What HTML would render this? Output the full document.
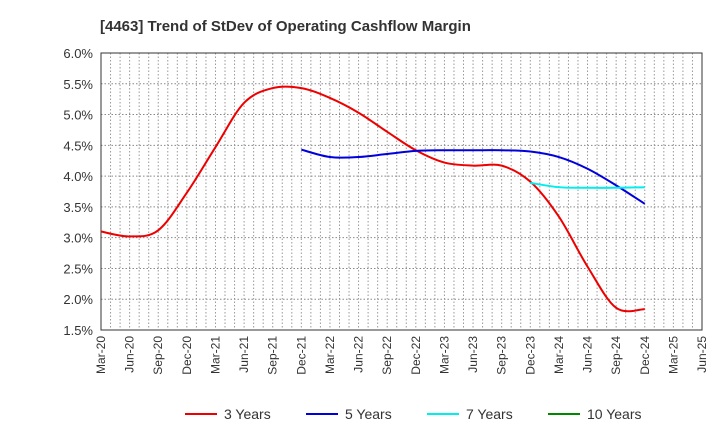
<!DOCTYPE html>
<html><head><meta charset="utf-8">
<style>
body{margin:0;background:#fff;font-family:"Liberation Sans",sans-serif;}
svg text{font-family:"Liberation Sans",sans-serif;}
</style></head>
<body>
<svg id="chart" width="720" height="440" xmlns="http://www.w3.org/2000/svg">
<text x="100" y="31" font-size="15" font-weight="bold" fill="#333">[4463]  Trend of StDev of Operating Cashflow Margin</text>
<g id="grid"></g>
<g id="axes"></g>
<g id="series"></g>
<g id="legend"></g>
</svg>
<script>
const xLabels=["Mar-20","Jun-20","Sep-20","Dec-20","Mar-21","Jun-21","Sep-21","Dec-21","Mar-22","Jun-22","Sep-22","Dec-22","Mar-23","Jun-23","Sep-23","Dec-23","Mar-24","Jun-24","Sep-24","Dec-24","Mar-25","Jun-25"];
const yTicks=[1.5,2.0,2.5,3.0,3.5,4.0,4.5,5.0,5.5,6.0];
const s3=[3.10,3.02,3.12,3.73,4.47,5.19,5.43,5.43,5.27,5.03,4.72,4.42,4.22,4.17,4.17,3.91,3.34,2.53,1.86,1.84];
const s5=[null,null,null,null,null,null,null,4.43,4.31,4.31,4.36,4.41,4.42,4.42,4.42,4.40,4.31,4.12,3.85,3.55];
const s7=[null,null,null,null,null,null,null,null,null,null,null,null,null,null,null,3.89,3.82,3.81,3.81,3.82];
const s10=[];
const L=101,R=702,T=53,B=330;
const NS="http://www.w3.org/2000/svg";
const step=(R-L)/(xLabels.length-1);
function xs(i){return L+i*step;}
function ys(v){return B-(v-1.5)/(4.5)*(B-T);}
function mk(tag,attrs,parent){const e=document.createElementNS(NS,tag);for(const k in attrs)e.setAttribute(k,attrs[k]);parent.appendChild(e);return e;}
const grid=document.getElementById('grid'),axes=document.getElementById('axes'),ser=document.getElementById('series'),leg=document.getElementById('legend');
// monthly vertical grid
for(let m=1;m<(xLabels.length-1)*3;m++){const x=L+m*step/3;const g=mk('line',{x1:x,x2:x,y1:T,y2:B,stroke:'#999','stroke-dasharray':'1.5,2','stroke-width':1},grid);
}
yTicks.forEach(v=>{const y=ys(v);const g=mk('line',{x1:L,x2:R,y1:y,y2:y,stroke:'#888','stroke-dasharray':'1.5,2','stroke-width':1},grid);

const t=mk('text',{x:L-8,y:y+5,'text-anchor':'end','font-size':13,fill:'#333'},axes);t.textContent=v.toFixed(1)+'%';
});
const fr=mk('rect',{x:L,y:T,width:R-L,height:B-T,fill:'none',stroke:'#333','stroke-width':1},axes);

xLabels.forEach((lab,i)=>{const x=xs(i);const t=mk('text',{transform:`translate(${x+4},${B+6}) rotate(-90)`,'text-anchor':'end','font-size':12,fill:'#333'},axes);t.textContent=lab;
});
function path(data,color,name){const pts=[];data.forEach((v,i)=>{if(v!=null)pts.push([xs(i),ys(v)]);});if(pts.length<2)return;
let d=`M${pts[0][0]},${pts[0][1]}`;
for(let i=0;i<pts.length-1;i++){const p0=pts[i-1]||pts[i],p1=pts[i],p2=pts[i+1],p3=pts[i+2]||p2;
const c1=[p1[0]+(p2[0]-p0[0])/6,p1[1]+(p2[1]-p0[1])/6],c2=[p2[0]-(p3[0]-p1[0])/6,p2[1]-(p3[1]-p1[1])/6];
d+=` C${c1[0]},${c1[1]} ${c2[0]},${c2[1]} ${p2[0]},${p2[1]}`;}
const e=mk('path',{d:d,fill:'none',stroke:color,'stroke-width':2},ser);
}
path(s3,'#ee0000','line-3-years');path(s5,'#0000dd','line-5-years');path(s7,'#00eeee','line-7-years');path(s10,'#008800','line-10-years');
const items=[['3 Years','#ee0000',185],['5 Years','#0000dd',306],['7 Years','#00eeee',427],['10 Years','#008800',548]];
items.forEach(([lab,c,x])=>{const g=mk('g',{},leg);
mk('line',{x1:x,x2:x+32,y1:414,y2:414,stroke:c,'stroke-width':2},g);
const t=mk('text',{x:x+39,y:419,'font-size':14,fill:'#333'},g);t.textContent=lab;});
</script>
</body></html>
